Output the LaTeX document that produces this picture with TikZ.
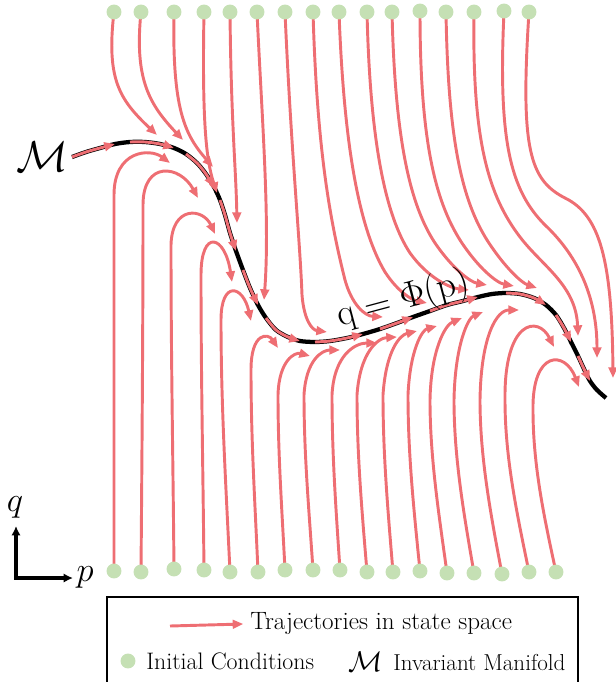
\documentclass[tikz,border=0pt]{standalone}
\usepackage{amsmath}
\usepackage{tikz}
\usetikzlibrary{arrows.meta}
\definecolor{trajred}{RGB}{238,110,115}
\definecolor{icgreen}{RGB}{197,224,180}

\tikzset{
  traj/.style={trajred, line width=2.2pt, -{Triangle[length=8pt,width=6.5pt]}},
  manifold/.style={black, line width=3.2pt},
  axisarrow/.style={black, line width=3pt, {Latex[length=7pt,width=7pt]}-{Latex[length=7pt,width=7pt]}},
}

\begin{document}
\begin{tikzpicture}[x=0.75pt,y=-0.75pt]
  \useasboundingbox (0,0) rectangle (616,682);
  \clip (0,0) rectangle (616,682);
  % Invariant manifold
  \draw[manifold] plot[smooth] coordinates {(72,157) (86,152) (100,148) (115,144) (130,142) (145,142) (160,144) (174,148) (186,154) (197,163) (206,174) (214,187) (220,200) (225,215) (230,233) (236,251) (243,270) (250,288) (258,305) (266,318) (276,330) (288,337) (300,341) (315,342) (330,341) (347,338) (363,334) (380,329) (397,323) (413,317) (430,311) (447,305) (463,301) (478,297) (492,294) (506,293) (520,294) (534,298) (546,305) (556,315) (564,328) (571,342) (578,356) (584,369) (590,381) (597,390) (606,398)};
  % Flow along the manifold
  \draw[traj] plot[smooth] coordinates {(72,157) (86,152) (100,148) (115,144)};
  \draw[traj] plot[smooth] coordinates {(130,142) (145,142) (160,144) (174,148)};
  \draw[traj] plot[smooth] coordinates {(186,154) (197,163) (206,174) (214,187)};
  \draw[traj] plot[smooth] coordinates {(220,200) (225,215) (230,233) (236,251)};
  \draw[traj] plot[smooth] coordinates {(243,270) (250,288) (258,305)};
  \draw[traj] plot[smooth] coordinates {(266,318) (276,330) (288,337) (300,341)};
  \draw[traj] plot[smooth] coordinates {(315,342) (330,341) (347,338) (363,334)};
  \draw[traj] plot[smooth] coordinates {(380,329) (397,323) (413,317)};
  \draw[traj] plot[smooth] coordinates {(430,311) (447,305) (463,301) (478,297)};
  \draw[traj] plot[smooth] coordinates {(506,293) (520,294) (534,298) (546,305)};
  \draw[traj] plot[smooth] coordinates {(556,315) (564,328) (571,342)};
  \draw[traj] plot[smooth] coordinates {(578,356) (584,369) (590,381)};
  %
  % Trajectories from the top
  \draw[traj] (114,12) .. controls (106,80) and (120,100) .. (157,135);
  \draw[traj] (141,12) .. controls (134,80) and (150,105) .. (183,140);
  \draw[traj] (174,12) .. controls (172,110) and (185,135) .. (213,167);
  \draw[traj] (204,12) .. controls (202,120) and (206,160) .. (217,193);
  \draw[traj] (230,12) .. controls (231,120) and (236,170) .. (237,223);
  \draw[traj] (257,12) .. controls (262,120) and (270,220) .. (264,300);
  \draw[traj] (285,12) .. controls (291,150) and (300,240) .. (302,295) .. controls (304,320) and (312,330) .. (327,332);
  \draw[traj] (313,12) .. controls (317,150) and (330,220) .. (345,280) .. controls (352,305) and (365,316) .. (383,317);
  \draw[traj] (339,12) .. controls (344,150) and (360,230) .. (385,272) .. controls (398,292) and (412,300) .. (427,303);
  \draw[traj] (367,12) .. controls (370,140) and (385,215) .. (410,253) .. controls (428,278) and (450,288) .. (469,290);
  \draw[traj] (392,12) .. controls (395,140) and (410,205) .. (435,243) .. controls (452,268) and (470,282) .. (487,285);
  \draw[traj] (420,12) .. controls (420,140) and (435,200) .. (460,240) .. controls (478,268) and (497,283) .. (514,286);
  \draw[traj] (446,12) .. controls (448,140) and (462,200) .. (487,240) .. controls (505,268) and (522,283) .. (537,288);
  \draw[traj] (474,12) .. controls (472,140) and (488,195) .. (520,237) .. controls (542,266) and (576,285) .. (578,336);
  \draw[traj] (504,12) .. controls (498,140) and (510,190) .. (545,225) .. controls (580,258) and (597,300) .. (597,358);
  \draw[traj] (529,12) .. controls (520,150) and (530,180) .. (565,198) .. controls (600,215) and (612,260) .. (613,378);
  %
  % Trajectories from the bottom
  \draw[traj] (114,571) .. controls +(0,-120) and +(0,120) .. (114,195) .. controls (114,150) and (150,148) .. (170,163);
  \draw[traj] (141,572) .. controls +(1,-120) and +(0,120) .. (143,205) .. controls (143,160) and (180,165) .. (198,198);
  \draw[traj] (174,569) .. controls +(-1,-110) and +(0,110) .. (171,245) .. controls (172,205) and (203,208) .. (215,234);
  \draw[traj] (204,570) .. controls +(-1,-100) and +(0,100) .. (201,275) .. controls (201,228) and (225,235) .. (232,282);
  \draw[traj] (230,572) .. controls +(-4,-85) and +(0,85) .. (221,320) .. controls (221,280) and (243,285) .. (251,321);
  \draw[traj] (258,572) .. controls +(-3,-70) and +(0,70) .. (251,370) .. controls (251,332) and (268,333) .. (278,348);
  \draw[traj] (285,570) .. controls +(-3,-60) and +(0,60) .. (278,395) .. controls (279,360) and (295,352) .. (310,356);
  \draw[traj] (313,570) .. controls +(-4,-60) and +(0,60) .. (304,395) .. controls (306,360) and (322,350) .. (340,350);
  \draw[traj] (340,570) .. controls +(-4,-60) and +(0,60) .. (332,395) .. controls (334,355) and (355,343) .. (377,343);
  \draw[traj] (367,572) .. controls +(-5,-60) and +(0,60) .. (357,395) .. controls (360,352) and (378,338) .. (397,337);
  \draw[traj] (393,572) .. controls +(-5,-60) and +(0,60) .. (383,395) .. controls (386,350) and (400,335) .. (417,331);
  \draw[traj] (420,571) .. controls +(-6,-60) and +(0,60) .. (408,395) .. controls (410,350) and (422,330) .. (437,326);
  \draw[traj] (447,573) .. controls +(-8,-58) and +(0,58) .. (430,400) .. controls (431,350) and (445,325) .. (462,318);
  \draw[traj] (474,573) .. controls +(-10,-58) and +(0,58) .. (454,400) .. controls (455,345) and (468,318) .. (483,312);
  \draw[traj] (502,574) .. controls +(-11,-58) and +(0,58) .. (480,400) .. controls (481,335) and (497,310) .. (519,310);
  \draw[traj] (529,572) .. controls +(-12,-58) and +(0,58) .. (505,400) .. controls (504,320) and (538,315) .. (554,347);
  \draw[traj] (556,572) .. controls +(-12,-55) and +(0,55) .. (533,410) .. controls (532,350) and (565,350) .. (579,387);
  %
  % Initial conditions
  \foreach \x/\y in {114/12,141/12,174/12,204/12,230/12,257/12,285/12,313/12,339/12,367/12,392/12,420/11,446/12,474/12,504/11,529/12} {
    \fill[icgreen] (\x,\y) circle (5.6pt);
  }
  \foreach \x/\y in {114/571,141/572,174/569,204/570,230/572,258/572,285/570,313/570,340/570,367/572,393/572,420/571,447/573,474/573,502/574,529/572,556/572} {
    \fill[icgreen] (\x,\y) circle (5.6pt);
  }
  %
  % Labels
  \node (mlab) at (42,157) {\scalebox{1.3}{\Huge$\mathcal{M}$}};
  \node[rotate=15] (phi) at (403,300) {\scalebox{1.12}{\Huge$\mathrm{q}=\Phi(\mathrm{p})$}};
  %
  % Axes
  \coordinate (qtip) at (16,526);
  \coordinate (ptip) at (73,578);
  \draw[axisarrow] (qtip) |- (ptip);
  \node (qlab) at (15,507) {\scalebox{1.25}{\huge$q$}};
  \node (plab) at (85,577) {\scalebox{1.25}{\huge$p$}};
  %
  % Legend
  \draw[black, line width=1.1pt] (107,597) rectangle (578,700);
  \coordinate (legstart) at (170,626);
  \node[anchor=west, inner sep=0pt] (legtraj) at (250,624) {\fontsize{18.8}{22}\selectfont Trajectories in state space};
  \draw[traj] (legstart) -- ([xshift=-5pt]legtraj.west);
  \fill[icgreen] (128,661) circle (5.6pt);
  \node[anchor=west, inner sep=0pt] (legic) at (146,661) {\fontsize{17.9}{21}\selectfont Initial Conditions};
  \node[anchor=west, inner sep=0pt] (legm) at (348,662) {\scalebox{0.86}{\Huge$\mathcal{M}$}};
  \node[anchor=west, inner sep=0pt] (legman) at (393,662) {\LARGE Invariant Manifold};
\end{tikzpicture}
\end{document}
